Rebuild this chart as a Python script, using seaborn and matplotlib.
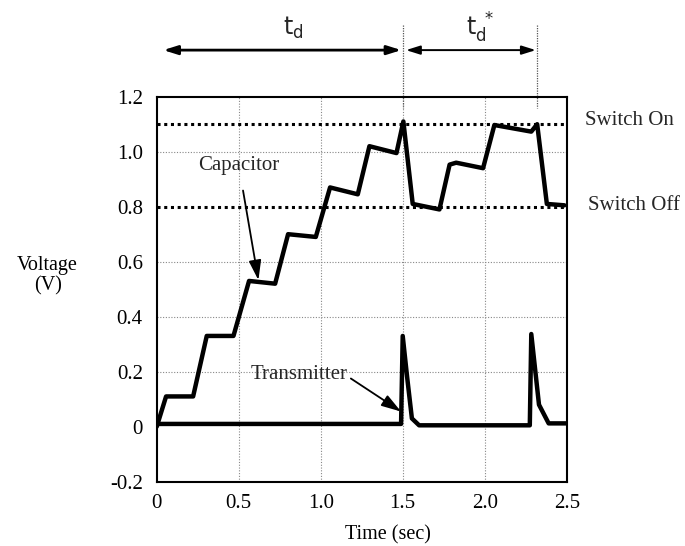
import matplotlib
matplotlib.use("Agg")
import matplotlib.pyplot as plt
import matplotlib.transforms as mtransforms
import seaborn as sns
import pandas as pd

# values
cap_time = [0.0, 0.057, 0.222, 0.305, 0.468, 0.563, 0.722, 0.801, 0.97, 1.057, 1.226,
            1.297, 1.462, 1.504, 1.561, 1.724, 1.786, 1.826, 1.99, 2.059, 2.284, 2.32,
            2.379, 2.486]
cap_volt = [0.0, 0.11, 0.11, 0.33, 0.33, 0.53, 0.52, 0.70, 0.69, 0.87, 0.845,
            1.02, 0.995, 1.11, 0.81, 0.79, 0.953, 0.96, 0.94, 1.097, 1.073, 1.10,
            0.81, 0.805]
tx_time = [0.0, 1.49, 1.50, 1.527, 1.556, 1.60, 2.275, 2.284, 2.331, 2.39, 2.5]
tx_volt = [0.01, 0.01, 0.33, 0.18, 0.03, 0.005, 0.005, 0.337, 0.08, 0.012, 0.012]

switch_on = 1.1
switch_off = 0.8
td_start, td_end, td2_end = 0.04, 1.5, 2.32

x_ticks = [0, 0.5, 1.0, 1.5, 2.0, 2.5]
x_labels = ["0", "0.5", "1.0", "1.5", "2.0", "2.5"]
y_ticks = [-0.2, 0, 0.2, 0.4, 0.6, 0.8, 1.0, 1.2]
y_labels = ["-0.2", "0", "0.2", "0.4", "0.6", "0.8", "1.0", "1.2"]

sns.set_theme(style="white")
plt.rcParams["font.family"] = ["Liberation Serif", "DejaVu Serif"]

cap = pd.DataFrame({"t": cap_time, "v": cap_volt})
tx = pd.DataFrame({"t": tx_time, "v": tx_volt})

fig = plt.figure(figsize=(6.85, 5.46), dpi=100)
ax = fig.add_axes([0.2288, 0.1178, 0.5985, 0.7051])

# grid
for gx in [0.5, 1.0, 1.5, 2.0]:
    ax.axvline(gx, color="#888888", lw=0.8, ls=(0, (1, 1.5)), zorder=1)
for gy in [0.2, 0.4, 0.6, 1.0]:
    ax.axhline(gy, color="#888888", lw=0.8, ls=(0, (1, 1.5)), zorder=1)

# switch thresholds
ax.axhline(switch_on, color="black", lw=2.2, ls=(0, (1, 1.2)), zorder=2)
ax.axhline(switch_off, color="black", lw=2.2, ls=(0, (1, 1.2)), zorder=2)

sns.lineplot(data=cap, x="t", y="v", estimator=None, sort=False, color="black",
             lw=3.2, ax=ax, zorder=3)
sns.lineplot(data=tx, x="t", y="v", estimator=None, sort=False, color="black",
             lw=3.2, ax=ax, zorder=3)

ax.set_xlim(0, 2.5)
ax.set_ylim(-0.2, 1.2)
ax.set_xticks(x_ticks)
ax.set_xticklabels(x_labels)
ax.set_yticks(y_ticks)
ax.set_yticklabels(y_labels)
ax.tick_params(axis="both", length=0, labelsize=15, colors="black")
ax.tick_params(axis="x", pad=9)
ax.tick_params(axis="y", pad=10)
for s in ax.spines.values():
    s.set_color("black")
    s.set_linewidth(1.5)

ax.set_xlabel("Time (sec)", fontsize=14.5, color="black", va="center")
ax.xaxis.set_label_coords(0.563, -0.138)
ax.set_ylabel("Voltage\n(V)", fontsize=14.5, color="black", rotation=0,
              ha="center", va="center", linespacing=1.05)
ax.yaxis.set_label_coords(-0.266, 0.535)

# annotations
arrow_kw = dict(arrowstyle="-|>,head_length=0.8,head_width=0.25", color="black", lw=1.3)
ax.annotate("Capacitor", xy=(0.62, 0.533), xytext=(0.50, 0.95), fontsize=15,
            ha="center", va="center", arrowprops=dict(**arrow_kw, shrinkA=9, shrinkB=0))
ax.annotate("Transmitter", xy=(1.49, 0.055), xytext=(0.868, 0.19), fontsize=15,
            ha="center", va="center",
            arrowprops=dict(**arrow_kw, shrinkA=0, shrinkB=0, relpos=(1.0, 0.4)))

trans_y = mtransforms.blended_transform_factory(ax.transAxes, ax.transData)
ax.text(1.044, switch_on + 0.015, "Switch On", transform=trans_y, fontsize=15,
        ha="left", va="center", clip_on=False)
ax.text(1.051, switch_off + 0.005, "Switch Off", transform=trans_y, fontsize=15,
        ha="left", va="center", clip_on=False)

# t_d brackets above the plot
trans_x = mtransforms.blended_transform_factory(ax.transData, ax.transAxes)
for vx in [td_end, td2_end]:
    ax.plot([vx, vx], [1.186, 0.97], transform=trans_x, color="#555555", lw=0.9,
            ls=(0, (1, 1)), clip_on=False)
ax.annotate("", xy=(td_start, 1.121), xytext=(td_end, 1.121), xycoords=trans_x,
            textcoords=trans_x,
            arrowprops=dict(arrowstyle="<|-|>,head_length=0.7,head_width=0.22",
                            color="black", lw=2.0, shrinkA=1, shrinkB=0))
ax.annotate("", xy=(td_end + 0.02, 1.121), xytext=(td2_end, 1.121), xycoords=trans_x,
            textcoords=trans_x,
            arrowprops=dict(arrowstyle="<|-|>,head_length=0.7,head_width=0.22",
                            color="black", lw=1.4, shrinkA=1, shrinkB=0))
ax.text(0.83, 1.178, r"$\mathregular{t_d}$", transform=trans_x, fontsize=17,
        ha="center", va="center", family="Liberation Sans Narrow")
ax.text(1.97, 1.178, r"$\mathregular{t_d^{\ *}}$", transform=trans_x, fontsize=17,
        ha="center", va="center", family="Liberation Sans Narrow")

fig.savefig("out.png", dpi=100, facecolor="white")
